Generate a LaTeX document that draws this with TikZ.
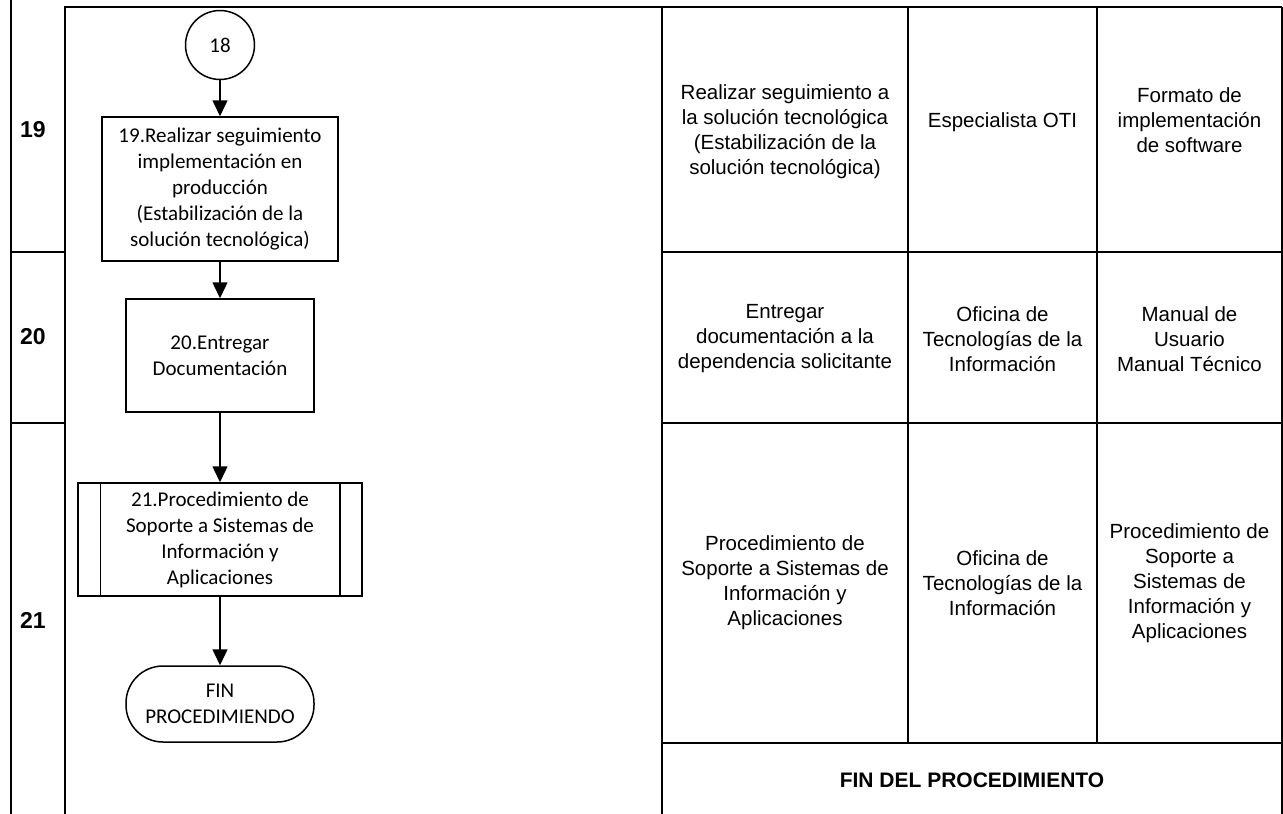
\documentclass[tikz,border=0pt]{standalone}
\usepackage{fontspec}
\setmainfont{Liberation Sans}
\newfontfamily\calibrifont{Carlito}
\usetikzlibrary{arrows.meta}

\begin{document}
\begin{tikzpicture}
        [x=1pt,y=-1pt,
         tabla/.style={line width=2.3pt},
         paso/.style={draw,line width=1.5pt,inner sep=0pt,align=center,
           font={\calibrifont\fontsize{21}{26}\selectfont}},
         flecha/.style={line width=1.5pt,-{Triangle[width=15pt,length=16pt]}},
         celda/.style={inner sep=0pt,align=center,
           font={\fontsize{20.5}{25}\selectfont}},
         numero/.style={inner sep=0pt,font={\bfseries\fontsize{23}{25}\selectfont}}]
        \useasboundingbox (0,0) rectangle (1283,814);

        \draw[tabla] (11,0) -- (11,814);
        \draw[tabla] (65,7) -- (65,814);
        \draw[tabla] (11,252) -- (65,252);
        \draw[tabla] (11,423) -- (65,423);
        \draw[tabla] (64,7) -- (1282,7);
        \draw[tabla] (662,7) -- (662,814);
        \draw[tabla] (1282,7) -- (1282,814);
        \draw[tabla] (908,7) -- (908,743);
        \draw[tabla] (1097,7) -- (1097,743);
        \foreach \y in {252,423,743}
        {\draw[tabla] (662,\y) -- (1282,\y);}

        \node[numero] (n19) at (33,130) {19};
        \node[numero] (n20) at (33,337) {20};
        \node[numero] (n21) at (33,620) {21};

        \node[paso,circle,minimum size=69pt] (c18) at (220,45) {18};
        \node[paso,minimum width=236pt,minimum height=144pt] (p19) at (220,189)
          {19.Realizar seguimiento\\implementación en\\producción\\(Estabilización de la\\solución tecnológica)};
        \node[paso,minimum width=188pt,minimum height=113pt] (p20) at (220,355.5)
          {20.Entregar\\Documentación};
        \node[paso,minimum width=284pt,minimum height=113pt] (p21) at (220,539.5)
          {21.Procedimiento de\\Soporte a Sistemas de\\Información y\\Aplicaciones};
        \draw[line width=1.5pt] ([xshift=23pt]p21.north west) -- ([xshift=23pt]p21.south west);
        \draw[line width=1.5pt] ([xshift=-23pt]p21.north east) -- ([xshift=-23pt]p21.south east);
        \node[paso,minimum width=188pt,minimum height=76pt,rounded corners=37pt] (fin) at (220,704)
          {FIN\\PROCEDIMIENDO};

        \draw[flecha] (c18) -- (p19);
        \draw[flecha] (p19) -- (p20);
        \draw[flecha] (p20) -- (p21);
        \draw[flecha] (p21) -- (fin);

        \node[celda] (a19) at (785,132) {Realizar seguimiento a\\la solución tecnológica\\(Estabilización de la\\solución tecnológica)};
        \node[celda] (r19) at (1002.5,122) {Especialista OTI};
        \node[celda] (d19) at (1189.5,120) {Formato de\\implementación\\de software};

        \node[celda] (a20) at (785,339) {Entregar\\documentación a la\\dependencia solicitante};
        \node[celda] (r20) at (1002.5,339) {Oficina de\\Tecnologías de la\\Información};
        \node[celda] (d20) at (1189.5,339) {Manual de\\Usuario\\Manual Técnico};

        \node[celda] (a21) at (785,583) {Procedimiento de\\Soporte a Sistemas de\\Información y\\Aplicaciones};
        \node[celda] (r21) at (1002.5,583) {Oficina de\\Tecnologías de la\\Información};
        \node[celda] (d21) at (1189.5,583) {Procedimiento de\\Soporte a\\Sistemas de\\Información y\\Aplicaciones};

        \node[inner sep=0pt,font={\bfseries\fontsize{21}{24}\selectfont}] (fin2) at (972,780) {FIN DEL PROCEDIMIENTO};
      \end{tikzpicture}
\end{document}
